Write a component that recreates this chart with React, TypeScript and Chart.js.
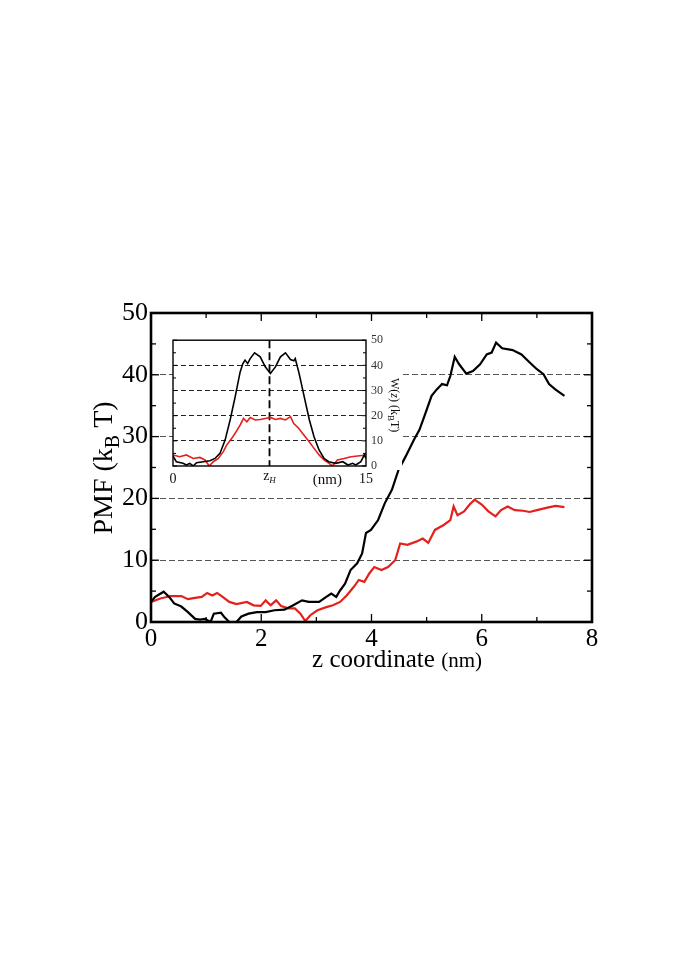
import React, { useEffect, useRef } from "react";
import { Chart, registerables } from "chart.js";
Chart.register(...registerables);

// ---------- main plot data ----------
const blackZ = [0,0.075,0.23,0.33,0.42,0.55,0.67,0.8,0.89,0.98,1.08,1.14,1.27,1.33,1.42,1.55,1.64,1.77,1.92,2.08,2.24,2.42,2.58,2.74,2.86,3.05,3.18,3.27,3.36,3.43,3.52,3.62,3.74,3.83,3.90,3.99,4.12,4.24,4.37,4.49,4.62,4.77,4.87,4.96,5.09,5.18,5.28,5.37,5.43,5.51,5.59,5.72,5.84,5.97,6.09,6.18,6.26,6.37,6.56,6.72,6.87,7.0,7.12,7.22,7.34,7.5];
const blackPMF = [3.25,4.06,4.9,4.06,3.0,2.5,1.6,0.5,0.4,0.5,0,1.35,1.5,0.8,0,0,0.9,1.35,1.6,1.6,1.9,2.0,2.7,3.5,3.25,3.25,4.06,4.6,4.06,5.1,6.2,8.4,9.5,11.1,14.4,14.9,16.5,19.2,21.4,24.6,26.8,29.5,31.1,33.3,36.6,37.6,38.5,38.3,39.8,42.9,41.7,40.2,40.6,41.7,43.3,43.6,45.2,44.3,44.0,43.3,42.0,40.9,40.1,38.5,37.6,36.6];
const redZ = [0,0.17,0.36,0.55,0.67,0.8,0.92,1.02,1.11,1.2,1.3,1.42,1.55,1.74,1.86,1.99,2.08,2.17,2.27,2.36,2.49,2.61,2.71,2.80,2.89,3.02,3.18,3.30,3.43,3.55,3.68,3.77,3.87,3.96,4.05,4.18,4.30,4.43,4.52,4.65,4.81,4.93,5.03,5.15,5.31,5.43,5.49,5.56,5.68,5.78,5.87,6.0,6.12,6.25,6.35,6.47,6.6,6.75,6.87,7.0,7.19,7.34,7.5];
const redPMF = [3.25,3.8,4.2,4.2,3.7,3.9,4.06,4.7,4.3,4.7,4.06,3.25,2.9,3.25,2.7,2.6,3.5,2.7,3.5,2.6,2.2,2.2,1.35,0.15,1.1,1.9,2.4,2.7,3.25,4.3,5.7,6.8,6.5,7.85,8.9,8.4,8.9,10.0,12.7,12.5,13.0,13.5,12.8,14.9,15.7,16.5,18.7,17.3,17.9,19.0,19.8,19.0,17.9,17.1,18.1,18.7,18.1,18.0,17.8,18.1,18.5,18.8,18.6];
const mainTicksX = [0, 2, 4, 6, 8];
const mainTicksY = [0, 10, 20, 30, 40, 50];

// ---------- inset data ----------
const insetBlackZ = [0,0.26,0.78,1.04,1.3,1.57,1.83,2.35,2.87,3.26,3.65,4.05,4.44,4.83,5.22,5.43,5.6,5.8,6.0,6.34,6.78,7.17,7.57,7.96,8.35,8.74,9.13,9.39,9.5,9.8,10.2,10.6,10.96,11.35,11.74,12.1,12.65,13.2,13.6,13.96,14.2,14.6,14.87,15];
const insetBlackW = [4.0,1.7,1.06,0.4,1.06,0,1.3,1.7,2.1,3.0,5.0,10.3,18.3,27.5,37.4,40.7,42.1,40.7,42.7,45.0,43.4,39.4,36.8,39.4,43.4,45.0,42.3,41.8,42.7,36.8,27.5,18.3,11.6,6.35,3.0,1.7,1.06,1.7,0.4,1.06,0.4,1.7,4.4,3.0];
const insetRedZ = [0,0.52,1.04,1.57,2.09,2.48,2.82,3.13,3.52,3.91,4.17,4.57,4.83,5.22,5.48,5.74,6.0,6.4,6.78,7.17,7.57,7.96,8.35,8.74,9.13,9.39,9.78,10.17,10.57,10.96,11.35,11.74,12.13,12.39,12.78,13.3,13.83,14.35,15];
const insetRedW = [4.4,3.7,4.4,3.0,3.4,2.4,0,1.7,3.0,5.7,8.3,11.0,13.0,16.3,18.9,17.6,19.3,18.3,18.5,18.9,19.3,18.5,18.9,18.3,19.6,16.9,14.9,12.3,9.7,7.0,4.4,2.4,1.06,0,2.4,3.0,3.7,4.0,4.4];
const insetTicksX = [0, 15];
const insetTicksY = [0, 10, 20, 30, 40, 50];
const insetZH = 7.5;
const insetUnitPos = 12;

const SERIF = '"Liberation Serif", "Times New Roman", serif';
const RED = "#e3211c";

const pts = (xs: number[], ys: number[]) => xs.map((x, i) => ({ x, y: ys[i] }));

function seg(ctx: CanvasRenderingContext2D, x1: number, y1: number, x2: number, y2: number) {
  ctx.beginPath();
  ctx.moveTo(x1, y1);
  ctx.lineTo(x2, y2);
  ctx.stroke();
}

const mainDecor = {
  id: "mainDecor",
  beforeDraw(chart: any) {
    const ctx = chart.ctx;
    ctx.save();
    ctx.fillStyle = "#fff";
    ctx.fillRect(0, 0, chart.width, chart.height);
    ctx.restore();
  },
  afterDraw(chart: any) {
    const { ctx, chartArea: a, scales } = chart;
    const x = scales.x, y = scales.y;
    ctx.save();
    ctx.strokeStyle = "#000";
    ctx.lineWidth = 1.3;
    for (let v = 0; v <= 8; v += 1) {
      const px = x.getPixelForValue(v);
      const len = v % 2 === 0 ? 8 : 5;
      seg(ctx, px, a.bottom, px, a.bottom - len);
      seg(ctx, px, a.top, px, a.top + len);
    }
    for (let v = 0; v <= 50; v += 5) {
      const py = y.getPixelForValue(v);
      const len = v % 10 === 0 ? 8 : 5;
      seg(ctx, a.left, py, a.left + len, py);
      seg(ctx, a.right, py, a.right - len, py);
    }
    ctx.lineWidth = 2.6;
    ctx.strokeRect(a.left, a.top, a.right - a.left, a.bottom - a.top);

    // x title
    ctx.fillStyle = "#000";
    ctx.textBaseline = "alphabetic";
    ctx.textAlign = "left";
    const f1 = `25px ${SERIF}`, f2 = `21px ${SERIF}`;
    ctx.font = f1;
    const t1 = "z coordinate ";
    const w1 = ctx.measureText(t1).width;
    ctx.font = f2;
    const w2 = ctx.measureText("(nm)").width;
    const cx = 397;
    const sx = cx - (w1 + w2) / 2;
    ctx.font = f1;
    ctx.fillText(t1, sx, 667);
    ctx.font = f2;
    ctx.fillText("(nm)", sx + w1, 667);

    // y title
    ctx.save();
    const fy = `28px ${SERIF}`, fs = `20px ${SERIF}`;
    ctx.font = fy;
    const a1 = "PMF (k", a3 = " T)";
    const wa1 = ctx.measureText(a1).width;
    const wa3 = ctx.measureText(a3).width;
    ctx.font = fs;
    const wa2 = ctx.measureText("B").width;
    const total = wa1 + wa2 + wa3;
    ctx.translate(112, 468 + total / 2);
    ctx.rotate(-Math.PI / 2);
    ctx.font = fy;
    ctx.fillText(a1, 0, 0);
    ctx.font = fs;
    ctx.fillText("B", wa1, 7);
    ctx.font = fy;
    ctx.fillText(a3, wa1 + wa2, 0);
    ctx.restore();
    ctx.restore();
  },
};

const insetDecor = {
  id: "insetDecor",
  beforeDraw(chart: any) {
    const ctx = chart.ctx;
    const a = chart.chartArea;
    ctx.save();
    ctx.fillStyle = "#fff";
    ctx.fillRect(a.left, a.top - 4, chart.width - a.left, a.bottom - a.top + 8);
    ctx.fillRect(a.left, a.bottom, a.right - a.left + 8, chart.height - a.bottom);
    ctx.restore();
  },
  beforeDatasetsDraw(chart: any) {
    const { ctx, chartArea: a, scales } = chart;
    const px = scales.x.getPixelForValue(insetZH);
    ctx.save();
    ctx.strokeStyle = "#000";
    ctx.lineWidth = 1.8;
    ctx.setLineDash([8, 4]);
    seg(ctx, px, a.top, px, a.bottom);
    ctx.restore();
  },
  afterDraw(chart: any) {
    const { ctx, chartArea: a, scales } = chart;
    const x = scales.x, y = scales.y;
    ctx.save();
    ctx.strokeStyle = "#000";
    ctx.lineWidth = 1;
    for (let v = 0; v <= 50; v += 5) {
      const py = y.getPixelForValue(v);
      const len = v % 10 === 0 ? 4 : 3;
      seg(ctx, a.left, py, a.left + len, py);
      seg(ctx, a.right, py, a.right - len, py);
    }
    ctx.lineWidth = 1.4;
    ctx.strokeRect(a.left, a.top, a.right - a.left, a.bottom - a.top);

    ctx.fillStyle = "#111";
    ctx.textBaseline = "alphabetic";
    // z_H label
    const zx = x.getPixelForValue(insetZH);
    ctx.font = `14px ${SERIF}`;
    const wz = ctx.measureText("z").width;
    ctx.font = `italic 9px ${SERIF}`;
    const wh = ctx.measureText("H").width;
    const zs = zx - (wz + wh) / 2;
    ctx.font = `14px ${SERIF}`;
    ctx.textAlign = "left";
    ctx.fillText("z", zs, a.bottom + 14);
    ctx.font = `italic 9px ${SERIF}`;
    ctx.fillText("H", zs + wz, a.bottom + 17);
    // (nm)
    ctx.font = `15px ${SERIF}`;
    ctx.textAlign = "center";
    ctx.fillText("(nm)", x.getPixelForValue(insetUnitPos), a.bottom + 18);

    // right axis title W(z) (kB T), reading top to bottom
    ctx.save();
    ctx.textAlign = "left";
    const parts: [string, string, number][] = [
      ["W(", `12px ${SERIF}`, 0],
      ["z", `italic 12px ${SERIF}`, 0],
      [") (k", `12px ${SERIF}`, 0],
      ["B", `9px ${SERIF}`, 3],
      ["T)", `12px ${SERIF}`, 0],
    ];
    let tot = 0;
    const widths = parts.map(([t, f]) => {
      ctx.font = f;
      const w = ctx.measureText(t).width;
      tot += w;
      return w;
    });
    ctx.translate(a.right + 25, (a.top + a.bottom) / 2 + 2 - tot / 2);
    ctx.rotate(Math.PI / 2);
    let off = 0;
    parts.forEach(([t, f, dy], i) => {
      ctx.font = f;
      ctx.fillText(t, off, dy);
      off += widths[i];
    });
    ctx.restore();
    ctx.restore();
  },
};

export default function App() {
  const mainRef = useRef<HTMLCanvasElement>(null);
  const insetRef = useRef<HTMLCanvasElement>(null);

  useEffect(() => {
    const main = new Chart(mainRef.current as HTMLCanvasElement, {
      type: "line",
      data: {
        datasets: [
          { data: pts(blackZ, blackPMF), borderColor: "#000", borderWidth: 2.2, pointRadius: 0, tension: 0, fill: false },
          { data: pts(redZ, redPMF), borderColor: RED, borderWidth: 2.2, pointRadius: 0, tension: 0, fill: false },
        ],
      },
      options: {
        responsive: false,
        animation: false,
        devicePixelRatio: 1,
        layout: { padding: { left: 91, top: 313, right: 93, bottom: 306 } },
        plugins: { legend: { display: false }, tooltip: { enabled: false } },
        scales: {
          x: {
            type: "linear",
            min: 0,
            max: 8,
            afterBuildTicks: (s: any) => { s.ticks = mainTicksX.map((v) => ({ value: v })); },
            afterFit: (s: any) => { s.height = 40; },
            ticks: { font: { family: SERIF, size: 25 }, color: "#000", padding: -6, maxRotation: 0, autoSkip: false },
            grid: { display: false },
            border: { display: false },
          },
          y: {
            type: "linear",
            min: 0,
            max: 50,
            afterBuildTicks: (s: any) => { s.ticks = mainTicksY.map((v) => ({ value: v })); },
            afterFit: (s: any) => { s.width = 60; },
            ticks: { font: { family: SERIF, size: 26 }, color: "#000", padding: 3, autoSkip: false },
            grid: {
              drawTicks: false,
              lineWidth: 1,
              color: (c: any) => (c.tick && c.tick.value > 0 && c.tick.value < 50 ? "#555" : "rgba(0,0,0,0)"),
            },
            border: { display: false, dash: [6, 3] },
          },
        },
      } as any,
      plugins: [mainDecor],
    } as any);

    const inset = new Chart(insetRef.current as HTMLCanvasElement, {
      type: "line",
      data: {
        datasets: [
          { data: pts(insetBlackZ, insetBlackW), borderColor: "#000", borderWidth: 1.6, pointRadius: 0, tension: 0, fill: false },
          { data: pts(insetRedZ, insetRedW), borderColor: RED, borderWidth: 1.6, pointRadius: 0, tension: 0, fill: false },
        ],
      },
      options: {
        responsive: false,
        animation: false,
        devicePixelRatio: 1,
        layout: { padding: { left: 3, top: 4, right: 0, bottom: 0 } },
        plugins: { legend: { display: false }, tooltip: { enabled: false } },
        scales: {
          x: {
            type: "linear",
            min: 0,
            max: 15,
            afterBuildTicks: (s: any) => { s.ticks = insetTicksX.map((v) => ({ value: v })); },
            afterFit: (s: any) => { s.height = 22; },
            ticks: { font: { family: SERIF, size: 14 }, color: "#111", padding: -3, maxRotation: 0, autoSkip: false },
            grid: { display: false },
            border: { display: false },
          },
          y: {
            type: "linear",
            position: "right",
            min: 0,
            max: 50,
            afterBuildTicks: (s: any) => { s.ticks = insetTicksY.map((v) => ({ value: v })); },
            afterFit: (s: any) => { s.width = 36; },
            ticks: { font: { family: SERIF, size: 12 }, color: "#333", padding: 5, autoSkip: false },
            grid: {
              drawTicks: false,
              lineWidth: 1,
              color: (c: any) => (c.tick && c.tick.value > 0 && c.tick.value < 50 ? "#222" : "rgba(0,0,0,0)"),
            },
            border: { display: false, dash: [5, 3] },
          },
        },
      } as any,
      plugins: [insetDecor],
    } as any);

    return () => {
      main.destroy();
      inset.destroy();
    };
  }, []);

  return (
    <div style={{ position: "absolute", left: 0, top: 0, width: 685, height: 968, background: "#fff" }}>
      <canvas ref={mainRef} width={685} height={968} style={{ position: "absolute", left: 0, top: 0, width: 685, height: 968 }} />
      <canvas ref={insetRef} width={232} height={160} style={{ position: "absolute", left: 170, top: 328, width: 232, height: 160 }} />
    </div>
  );
}
